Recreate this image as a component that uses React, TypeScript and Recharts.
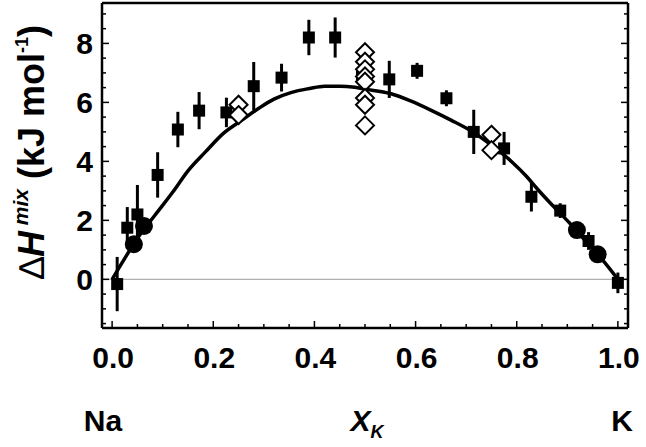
import { ComposedChart, Line, Scatter, XAxis, YAxis, ReferenceLine, ErrorBar } from 'recharts'

const FONT = '"Liberation Sans", Arial, Helvetica, sans-serif'

// fitted curve
const curveX = [0, 0.025, 0.05, 0.085, 0.12, 0.15, 0.185, 0.22, 0.255, 0.29, 0.32, 0.355, 0.39, 0.42, 0.45, 0.48, 0.5, 0.55, 0.59, 0.63, 0.67, 0.71, 0.75, 0.79, 0.82, 0.84, 0.87, 0.905, 0.94, 0.97, 1.0]
const curveY = [0, 0.71, 1.39, 2.18, 2.96, 3.68, 4.33, 4.95, 5.38, 5.8, 6.11, 6.34, 6.47, 6.55, 6.55, 6.51, 6.45, 6.3, 6.05, 5.74, 5.4, 5.03, 4.55, 3.99, 3.48, 3.08, 2.52, 1.9, 1.22, 0.65, 0]

// filled squares with error bars
const squareX = [0.01, 0.03, 0.05, 0.09, 0.13, 0.172, 0.226, 0.28, 0.335, 0.389, 0.441, 0.494, 0.548, 0.603, 0.661, 0.715, 0.775, 0.829, 0.886, 0.942, 1.0]
const squareY = [-0.16, 1.75, 2.2, 3.54, 5.08, 5.72, 5.66, 6.55, 6.84, 8.2, 8.2, 6.9, 6.78, 7.07, 6.14, 5.0, 4.44, 2.8, 2.33, 1.3, -0.12]
const squareErr = [0.92, 0.7, 1.0, 0.77, 0.6, 0.63, 0.5, 0.82, 0.47, 0.6, 0.68, 0.3, 0.63, 0.27, 0.27, 0.75, 0.56, 0.5, 0.25, 0.3, 0.35]

// filled circles
const circleX = [0.043, 0.063, 0.919, 0.96]
const circleY = [1.19, 1.81, 1.67, 0.85]

// open diamonds
const diamondX = [0.25, 0.25, 0.5, 0.5, 0.5, 0.5, 0.5, 0.5, 0.5, 0.5, 0.75, 0.75]
const diamondY = [5.92, 5.57, 7.7, 7.38, 7.12, 6.88, 6.7, 6.15, 5.92, 5.22, 4.9, 4.38]

const xTicks = [0, 0.05, 0.1, 0.15, 0.2, 0.25, 0.3, 0.35, 0.4, 0.45, 0.5, 0.55, 0.6, 0.65, 0.7, 0.75, 0.8, 0.85, 0.9, 0.95, 1.0]
const xMajor = [0, 0.2, 0.4, 0.6, 0.8, 1.0]
const xTickLabels = ['0.0', '0.2', '0.4', '0.6', '0.8', '1.0']
const yTicks = [-1.5, -1, -0.5, 0, 0.5, 1, 1.5, 2, 2.5, 3, 3.5, 4, 4.5, 5, 5.5, 6, 6.5, 7, 7.5, 8, 8.5, 9]
const yMajor = [0, 2, 4, 6, 8]
const yTickLabels = ['0', '2', '4', '6', '8']

const curve = curveX.map((x, i) => ({ x, y: curveY[i] }))
const squares = squareX.map((x, i) => ({ x, y: squareY[i], err: squareErr[i] }))
const circles = circleX.map((x, i) => ({ x, y: circleY[i] }))
const diamonds = diamondX.map((x, i) => ({ x, y: diamondY[i] }))

const isIn = (arr: number[], v: number) => arr.findIndex(a => Math.abs(a - v) < 1e-6)

const SquareDot = (p: any) => <rect x={p.cx - 6} y={p.cy - 6} width={12} height={12} fill="#000" />
const CircleDot = (p: any) => <circle cx={p.cx} cy={p.cy} r={9} fill="#000" />
const DiamondDot = (p: any) => (
  <polygon
    points={`${p.cx},${p.cy - 9} ${p.cx + 9},${p.cy} ${p.cx},${p.cy + 9} ${p.cx - 9},${p.cy}`}
    fill="#fff"
    stroke="#000"
    strokeWidth={2}
  />
)

const BottomTick = ({ x, y, payload }: any) => {
  const idx = isIn(xMajor, payload.value)
  return (
    <g>
      <line x1={x} x2={x} y1={y} y2={y - (idx >= 0 ? 7 : 4)} stroke="#000" strokeWidth={1.5} />
      {idx >= 0 && (
        <text x={x + 1} y={y + 40} textAnchor="middle" fontFamily={FONT} fontWeight="bold" fontSize={30} fill="#000">
          {xTickLabels[idx]}
        </text>
      )}
    </g>
  )
}

const TopTick = ({ x, y, payload }: any) => {
  const major = isIn(xMajor, payload.value) >= 0
  return <line x1={x} x2={x} y1={y} y2={y + (major ? 7 : 4)} stroke="#000" strokeWidth={1.5} />
}

const LeftTick = ({ x, y, payload }: any) => {
  const idx = isIn(yMajor, payload.value)
  return (
    <g>
      <line x1={x} x2={x + (idx >= 0 ? 7 : 4)} y1={y} y2={y} stroke="#000" strokeWidth={1.5} />
      {idx >= 0 && (
        <text x={x - 9} y={y + 11} textAnchor="end" fontFamily={FONT} fontWeight="bold" fontSize={30} fill="#000">
          {yTickLabels[idx]}
        </text>
      )}
    </g>
  )
}

const RightTick = ({ x, y, payload }: any) => {
  const major = isIn(yMajor, payload.value) >= 0
  return <line x1={x} x2={x - (major ? 7 : 4)} y1={y} y2={y} stroke="#000" strokeWidth={1.5} />
}

const YTitle = () => (
  <text transform="translate(44,152) rotate(-90)" textAnchor="middle" fontFamily={FONT} fontWeight="bold" fontSize={36} fill="#000">
    <tspan fontWeight="normal">{'\u2206'}</tspan>
    <tspan fontStyle="italic">H</tspan>
    <tspan fontStyle="italic" fontSize={21} dy={-16}>{'\u00a0mix'}</tspan>
    <tspan dy={16}>{'\u00a0(kJ mol'}</tspan>
    <tspan fontSize={18} dy={-16}>-1</tspan>
    <tspan dy={16}>)</tspan>
  </text>
)

const XTitle = () => (
  <g fontFamily={FONT} fontWeight="bold" fontSize={30} fill="#000">
    <text x={103} y={431} textAnchor="middle">Na</text>
    <text x={367} y={431} textAnchor="middle">
      <tspan fontStyle="italic">X</tspan>
      <tspan fontStyle="italic" fontSize={18} dy={7}>K</tspan>
    </text>
    <text x={622} y={431} textAnchor="middle">K</text>
  </g>
)

const axisLine = { stroke: '#000', strokeWidth: 2.5 }

export default function App() {
  return (
    <div style={{ position: 'absolute', left: 0, top: 0, width: 646, height: 447, background: '#fff' }}>
      <ComposedChart width={646} height={447} margin={{ top: 2, right: 17, bottom: 89, left: 42 }}>
        <XAxis
          type="number"
          dataKey="x"
          domain={[-0.02, 1.02]}
          ticks={xTicks}
          interval={0}
          allowDataOverflow
          tickSize={0}
          tickMargin={0}
          tickLine={false}
          axisLine={axisLine}
          tick={<BottomTick />}
          height={30}
          label={<XTitle />}
        />
        <XAxis
          xAxisId="top"
          orientation="top"
          type="number"
          domain={[-0.02, 1.02]}
          ticks={xTicks}
          interval={0}
          allowDataOverflow
          tickSize={0}
          tickMargin={0}
          tickLine={false}
          axisLine={axisLine}
          tick={<TopTick />}
          height={1}
        />
        <YAxis
          type="number"
          dataKey="y"
          domain={[-1.65, 9.37]}
          ticks={yTicks}
          interval={0}
          allowDataOverflow
          tickSize={0}
          tickMargin={0}
          tickLine={false}
          axisLine={axisLine}
          tick={<LeftTick />}
          width={60}
          label={<YTitle />}
        />
        <YAxis
          yAxisId="right"
          orientation="right"
          type="number"
          domain={[-1.65, 9.37]}
          ticks={yTicks}
          interval={0}
          allowDataOverflow
          tickSize={0}
          tickMargin={0}
          tickLine={false}
          axisLine={axisLine}
          tick={<RightTick />}
          width={1}
        />
        <ReferenceLine y={0} stroke="#b0b0b0" strokeWidth={1.2} />
        <Line data={curve} dataKey="y" type="monotone" stroke="#000" strokeWidth={3.5} dot={false} activeDot={false} isAnimationActive={false} />
        <Scatter data={squares} dataKey="y" shape={SquareDot} isAnimationActive={false}>
          <ErrorBar dataKey="err" direction="y" width={0} stroke="#000" strokeWidth={3} />
        </Scatter>
        <Scatter data={circles} dataKey="y" shape={CircleDot} isAnimationActive={false} />
        <Scatter data={diamonds} dataKey="y" shape={DiamondDot} isAnimationActive={false} />
      </ComposedChart>
    </div>
  )
}
